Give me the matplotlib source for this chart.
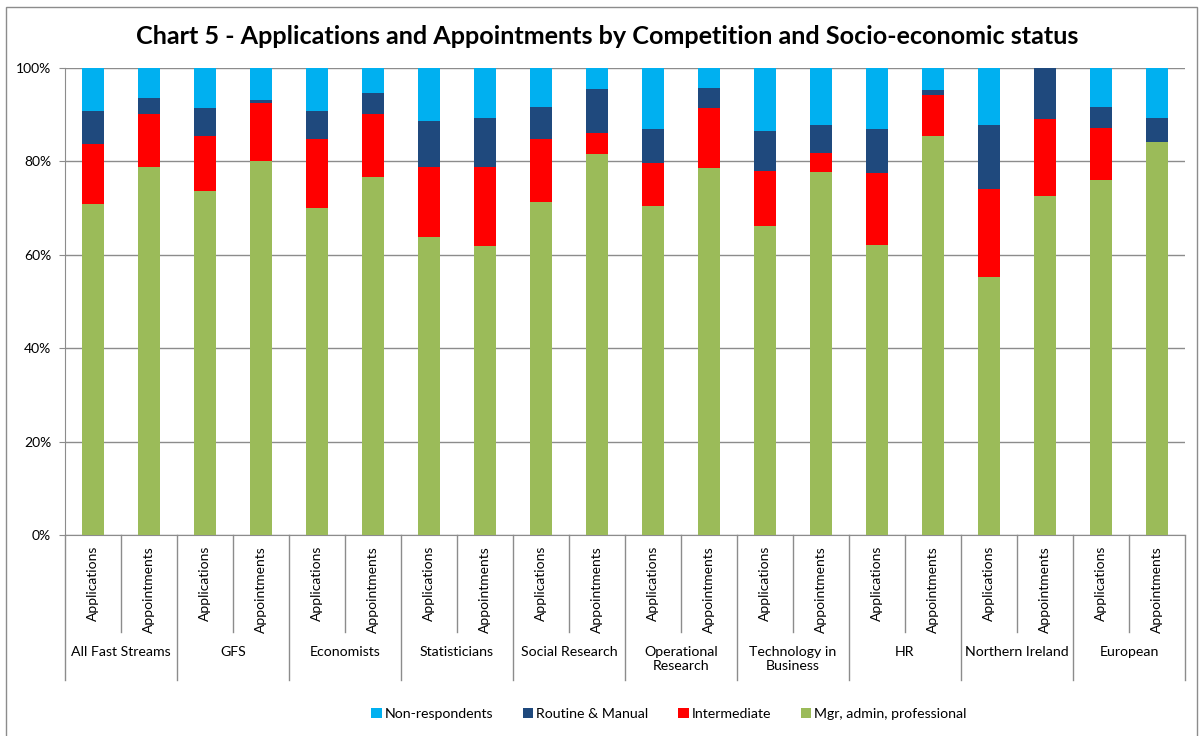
import matplotlib.pyplot as plt
from matplotlib.patches import Rectangle
import numpy as np

plt.rcParams['font.family'] = ['Lato', 'DejaVu Sans']

# Competitions (two bars each: Applications, Appointments)
groups = ['All Fast Streams', 'GFS', 'Economists', 'Statisticians', 'Social Research',
          'Operational\nResearch', 'Technology in\nBusiness', 'HR', 'Northern Ireland', 'European']
bar_labels = ['Applications', 'Appointments'] * len(groups)

# Percentages, per bar (Apps, Appts, Apps, Appts, ...)
mgr = [70.9, 78.7, 73.6, 80.1, 70.0, 76.7, 63.9, 61.8, 71.4, 81.5,
       70.5, 78.5, 66.2, 77.7, 62.1, 85.4, 55.3, 72.5, 76.0, 84.2]
intermediate = [12.8, 11.5, 11.8, 12.3, 14.9, 13.5, 14.8, 17.1, 13.3, 4.6,
                9.1, 12.9, 11.7, 4.0, 15.4, 8.8, 18.7, 16.5, 11.1, 0.0]
routine = [7.0, 3.3, 6.0, 0.8, 5.8, 4.5, 10.0, 10.5, 6.9, 9.3,
           7.4, 4.3, 8.7, 6.0, 9.5, 1.0, 13.7, 11.0, 4.5, 5.2]
non_resp = [9.3, 6.5, 8.6, 6.8, 9.3, 5.3, 11.3, 10.6, 8.4, 4.6,
            13.0, 4.3, 13.4, 12.3, 13.0, 4.9, 12.3, 0.0, 8.4, 10.6]

c_nr = '#00B0F0'
c_rm = '#1F497D'
c_int = '#FF0000'
c_mgr = '#9BBB59'

fig = plt.figure(figsize=(12.03, 7.36), dpi=100)
ax = fig.add_axes([65 / 1203, 1 - 535 / 736, 1120 / 1203, 467 / 736])

x = np.arange(len(bar_labels))
w = 0.4
b1 = np.array(mgr)
b2 = b1 + np.array(intermediate)
b3 = b2 + np.array(routine)
ax.bar(x, mgr, w, color=c_mgr, label='Mgr, admin, professional', zorder=3)
ax.bar(x, intermediate, w, bottom=b1, color=c_int, label='Intermediate', zorder=3)
ax.bar(x, routine, w, bottom=b2, color=c_rm, label='Routine & Manual', zorder=3)
ax.bar(x, non_resp, w, bottom=b3, color=c_nr, label='Non-respondents', zorder=3)

ax.set_xlim(-0.5, len(bar_labels) - 0.5)
ax.set_ylim(0, 100)
ax.set_yticks(range(0, 101, 20))
ax.set_yticklabels([f'{v}%' for v in range(0, 101, 20)], fontsize=10)
ax.yaxis.grid(True, color='#8c8c8c', linewidth=1, zorder=0)
ax.tick_params(axis='y', length=4, color='#8c8c8c', pad=6)
ax.set_xticks([])
for s in ['top', 'right']:
    ax.spines[s].set_visible(False)
ax.spines['left'].set_color('#8c8c8c')
ax.spines['bottom'].set_color('#8c8c8c')

# two-level category axis
px = 1 / 467  # one pixel in axes fraction (vertical)
trans = ax.get_xaxis_transform()
for i, lab in enumerate(bar_labels):
    ax.text(i, -11 * px, lab, rotation=90, ha='center', va='top', fontsize=10,
            transform=trans, clip_on=False)
for g in range(len(groups)):
    ax.plot([2 * g + 0.5] * 2, [0, -97 * px], color='#8c8c8c', lw=1,
            transform=trans, clip_on=False)
    ax.text(2 * g + 0.5, -111 * px, groups[g], ha='center', va='top', fontsize=10.2,
            linespacing=1.2, transform=trans, clip_on=False)
for g in range(len(groups) + 1):
    ax.plot([2 * g - 0.5] * 2, [0, -145 * px], color='#8c8c8c', lw=1,
            transform=trans, clip_on=False)

fig.suptitle('Chart 5 - Applications and Appointments by Competition and Socio-economic status',
             x=0.505, y=1 - 36 / 736, va='center', fontsize=18.1, fontweight='bold')

handles, labels = ax.get_legend_handles_labels()
fig.legend(handles[::-1], labels[::-1], loc='center', bbox_to_anchor=(0.556, 1 - 714 / 736),
           ncol=4, frameon=False, fontsize=10.2, handlelength=0.75, handleheight=0.75,
           handletextpad=0.2, columnspacing=2.1)

fig.patches.append(Rectangle((6 / 1203, -0.05), 1191 / 1203, 1.05 - 7 / 736,
                             transform=fig.transFigure, fill=False,
                             edgecolor='#8c8c8c', lw=1))

fig.savefig('out.png', dpi=100)
